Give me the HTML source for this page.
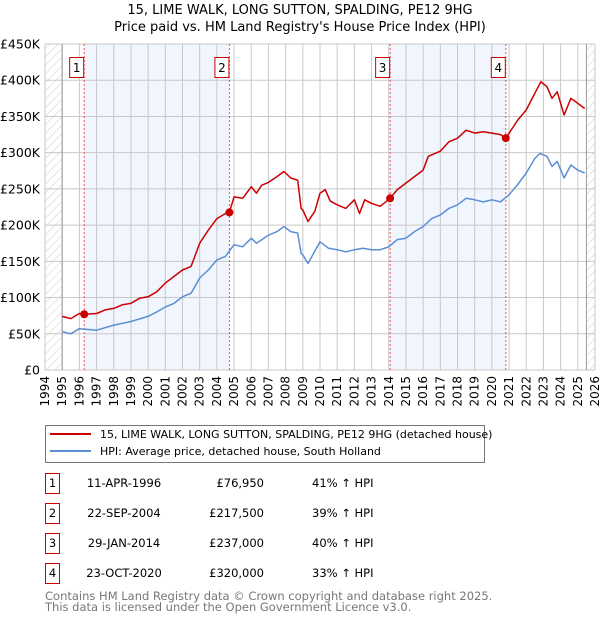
<!DOCTYPE html>
<html><head><meta charset="utf-8"><style>
body{margin:0;background:#fff;font-family:"DejaVu Sans","Liberation Sans",sans-serif;}
svg text{font-family:"DejaVu Sans","Liberation Sans",sans-serif;}
</style></head><body>
<svg id="chart" width="600" height="620" xmlns="http://www.w3.org/2000/svg">
<defs><pattern id="hatch" patternUnits="userSpaceOnUse" width="6" height="6" patternTransform="rotate(45)"><line x1="0" y1="0" x2="0" y2="6" stroke="#ccc" stroke-width="1"/></pattern></defs>
<text x="300" y="14" text-anchor="middle" font-size="13">15, LIME WALK, LONG SUTTON, SPALDING, PE12 9HG</text>
<text x="300" y="31" text-anchor="middle" font-size="13">Price paid vs. HM Land Registry's House Price Index (HPI)</text>
<g id="plot"></g>
<g>
<rect x="45.5" y="425.5" width="439" height="37" fill="#fff" stroke="#777"/>
<line x1="50" y1="434" x2="91" y2="434" stroke="#cc0000" stroke-width="2"/>
<text x="100" y="438" font-size="11">15, LIME WALK, LONG SUTTON, SPALDING, PE12 9HG (detached house)</text>
<line x1="50" y1="451" x2="91" y2="451" stroke="#5b8fd4" stroke-width="2"/>
<text x="100" y="455" font-size="11">HPI: Average price, detached house, South Holland</text>
</g>
<g id="table"></g>
<text x="45" y="600" font-size="11.5" fill="#777">Contains HM Land Registry data © Crown copyright and database right 2025.</text>
<text x="45" y="611" font-size="11.5" fill="#777">This data is licensed under the Open Government Licence v3.0.</text>
</svg>
<script>
const hpiYears=[1995,1995.5,1996,1997,1998,1999,2000,2000.5,2001,2001.5,2002,2002.5,2003,2003.5,2004,2004.5,2005,2005.5,2006,2006.3,2007,2007.5,2007.9,2008.3,2008.7,2008.9,2009.0,2009.3,2010,2010.5,2011,2011.5,2012,2012.5,2013,2013.5,2014,2014.5,2015,2015.5,2016,2016.5,2017,2017.5,2018,2018.5,2019,2019.5,2020,2020.5,2021,2021.5,2022,2022.5,2022.8,2023.2,2023.5,2023.8,2024.2,2024.6,2025,2025.4];
const hpiValues=[53,50,57,55,62,67,74,80,87,92,101,106,127,138,152,157,173,170,182,175,186,191,198,191,189,161,159,147,177,168,166,163,166,168,166,166,170,180,182,191,198,209,214,223,228,237,235,232,235,232,242,256,272,292,299,295,281,288,265,283,276,272];
const priceYears=[1995,1995.5,1996,1996.3,1997,1997.5,1998,1998.5,1999,1999.5,2000,2000.5,2001,2001.5,2002,2002.5,2003,2003.5,2004,2004.5,2004.73,2005,2005.5,2006,2006.3,2006.6,2007,2007.5,2007.9,2008.3,2008.7,2008.9,2009.0,2009.3,2009.7,2010,2010.3,2010.6,2011,2011.5,2012,2012.3,2012.6,2013,2013.5,2014.08,2014.5,2015,2015.5,2016,2016.3,2017,2017.5,2018,2018.5,2019,2019.5,2020,2020.5,2020.81,2021.2,2021.5,2022,2022.5,2022.85,2023.2,2023.5,2023.8,2024.2,2024.6,2025,2025.4];
const priceValues=[74,71,78,77,78,83,85,90,92,99,101,108,120,129,138,143,175,193,209,216,218,239,237,253,244,255,259,267,274,265,262,223,221,205,219,244,249,233,228,223,235,216,235,230,226,237,249,258,267,276,295,302,315,320,331,327,329,327,325,320,334,345,359,382,398,391,375,384,352,375,368,361];
const saleYears=[1996.28,2004.73,2014.08,2020.81];
const saleValues=[76.95,217.5,237,320];
const saleLabels=["1","2","3","4"];
const saleDates=["11-APR-1996","22-SEP-2004","29-JAN-2014","23-OCT-2020"];
const salePrices=["£76,950","£217,500","£237,000","£320,000"];
const saleHpi=["41% ↑ HPI","39% ↑ HPI","40% ↑ HPI","33% ↑ HPI"];
const yTicks=[0,50,100,150,200,250,300,350,400,450];
const yTickLabels=["£0","£50K","£100K","£150K","£200K","£250K","£300K","£350K","£400K","£450K"];
const xTicks=[1994,1995,1996,1997,1998,1999,2000,2001,2002,2003,2004,2005,2006,2007,2008,2009,2010,2011,2012,2013,2014,2015,2016,2017,2018,2019,2020,2021,2022,2023,2024,2025,2026];

const X0=45,X1=595,Y0=370,Y1=44;
const xs=y=>X0+(y-1994)/32*(X1-X0);
const ys=v=>Y0-v/450*(Y0-Y1);
const NS="http://www.w3.org/2000/svg";
function mk(tag,attrs,parent,txt){const e=document.createElementNS(NS,tag);for(const k in attrs)e.setAttribute(k,attrs[k]);if(txt!==undefined)e.textContent=txt;parent.appendChild(e);return e;}
const plot=document.getElementById('plot');
for(let i=0;i<saleYears.length;i+=2){
 const r=mk('rect',{x:xs(saleYears[i]),y:Y1,width:xs(saleYears[i+1])-xs(saleYears[i]),height:Y0-Y1,fill:'#eef3fc',opacity:0.8},plot);
 
 
}
const h1=mk('rect',{x:X0,y:Y1,width:xs(1995)-X0,height:Y0-Y1,fill:'url(#hatch)'},plot);


const h2=mk('rect',{x:xs(2025.5),y:Y1,width:X1-xs(2025.5),height:Y0-Y1,fill:'url(#hatch)'},plot);


xTicks.forEach(t=>{
 const l=mk('line',{x1:xs(t),x2:xs(t),y1:Y1,y2:Y0,stroke:'#c8c8c8'},plot);
 
 
 const tx=mk('text',{x:0,y:0,'font-size':12,'text-anchor':'end',transform:`translate(${xs(t)+4},${Y0+6}) rotate(-90)`},plot,String(t));
 
 
});
yTicks.forEach((t,i)=>{
 const l=mk('line',{x1:X0,x2:X1,y1:ys(t),y2:ys(t),stroke:'#c8c8c8'},plot);
 
 
 const tx=mk('text',{x:40,y:ys(t)+4.5,'font-size':12.5,'text-anchor':'end'},plot,yTickLabels[i]);
 
 
});
const ax=mk('line',{x1:xs(1995),x2:xs(1995),y1:Y1,y2:Y0,stroke:'#999'},plot);


const ax2=mk('line',{x1:xs(2025.5),x2:xs(2025.5),y1:Y1,y2:Y0,stroke:'#999'},plot);


saleYears.forEach((y,i)=>{
 const l=mk('line',{x1:xs(y),x2:xs(y),y1:Y1,y2:Y0,stroke:'#f05050','stroke-dasharray':'2,2'},plot);
 
 
 const g=mk('g',{},plot);
 
 
 mk('rect',{x:xs(y)-14.5,y:57.5,width:14,height:20,fill:'#fff',stroke:'#cc0000'},g);
 mk('text',{x:xs(y)-7.5,y:72,'font-size':12,'text-anchor':'middle'},g,saleLabels[i]);
});
function pathD(xv,yv){return xv.map((x,i)=>(i?'L':'M')+xs(x).toFixed(1)+','+ys(yv[i]).toFixed(1)).join(' ');}
const hp=mk('path',{d:pathD(hpiYears,hpiValues),fill:'none',stroke:'#5b8fd4','stroke-width':1.5,'stroke-linejoin':'round'},plot);


const pp=mk('path',{d:pathD(priceYears,priceValues),fill:'none',stroke:'#cc0000','stroke-width':1.5,'stroke-linejoin':'round'},plot);


saleYears.forEach((y,i)=>{
 const c=mk('circle',{cx:xs(y),cy:ys(saleValues[i]),r:4,fill:'#cc0000'},plot);
 
 
});
const tb=document.getElementById('table');
saleLabels.forEach((s,i)=>{
 const cy=483+i*30;
 const g=mk('g',{},tb);
 
 
 mk('rect',{x:45.5,y:cy-9.5,width:14,height:20,fill:'#fff',stroke:'#cc0000'},g);
 mk('text',{x:52.5,y:cy+4,'font-size':11.5,'text-anchor':'middle'},g,s);
 mk('text',{x:124,y:cy+4,'font-size':11.5,'text-anchor':'middle'},g,saleDates[i]);
 mk('text',{x:264,y:cy+4,'font-size':11.5,'text-anchor':'end'},g,salePrices[i]);
 mk('text',{x:312,y:cy+4,'font-size':11.5},g,saleHpi[i]);
});
</script>
</body></html>
